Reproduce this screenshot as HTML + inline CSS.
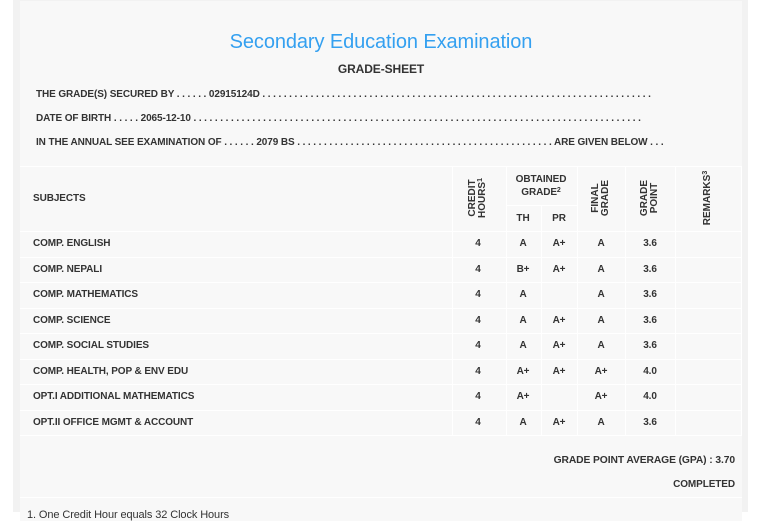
<!DOCTYPE html>
<html><head><meta charset="utf-8"><style>
html,body{margin:0;padding:0;background:#fff;width:766px;height:512px;overflow:hidden;font-family:"Liberation Sans",sans-serif;}
.outer{position:absolute;left:13px;top:0;width:735px;height:512px;background:#f2f2f2;}
.panel{position:absolute;left:20px;top:1px;width:722px;height:520px;background:#f8f8f8;}
.t{position:absolute;color:#333;font-weight:bold;font-size:10px;white-space:nowrap;letter-spacing:-0.1px}
.c{text-align:center;transform:translateX(-50%)}
.h{position:absolute;background:#fff;height:1px}
.v{position:absolute;background:#fff;width:1px}
.rot{position:absolute;color:#333;font-weight:bold;font-size:10px;line-height:10px;text-align:center;transform:translate(-50%,-50%) rotate(-90deg);white-space:nowrap}
sup{font-size:7px;vertical-align:top;position:relative;top:-2px}
</style></head><body>
<div class="outer"></div>
<div class="panel"></div>
<div class="t" style="left:381px;top:31px;transform:translateX(-50%);font-weight:normal;font-size:20px;color:#34a0f0;">Secondary Education Examination</div>
<div class="t c" style="left:381px;top:62px;font-size:12px">GRADE-SHEET</div>
<div class="t" style="left:36px;top:89px">THE GRADE(S) SECURED BY . . . . . . 02915124D . . . . . . . . . . . . . . . . . . . . . . . . . . . . . . . . . . . . . . . . . . . . . . . . . . . . . . . . . . . . . . . . . . . . . . . . .</div>
<div class="t" style="left:36px;top:113px">DATE OF BIRTH . . . . . 2065-12-10 . . . . . . . . . . . . . . . . . . . . . . . . . . . . . . . . . . . . . . . . . . . . . . . . . . . . . . . . . . . . . . . . . . . . . . . . . . . . . . . . . . . .</div>
<div class="t" style="left:36px;top:137px">IN THE ANNUAL SEE EXAMINATION OF . . . . . . 2079 BS . . . . . . . . . . . . . . . . . . . . . . . . . . . . . . . . . . . . . . . . . . . . . . . . ARE GIVEN BELOW . . .</div>
<div class="h" style="left:20px;top:166px;width:722px"></div>
<div class="h" style="left:506px;top:205px;width:71px"></div>
<div class="h" style="left:20px;top:231px;width:722px"></div>
<div class="h" style="left:20px;top:257px;width:722px"></div>
<div class="h" style="left:20px;top:282px;width:722px"></div>
<div class="h" style="left:20px;top:308px;width:722px"></div>
<div class="h" style="left:20px;top:333px;width:722px"></div>
<div class="h" style="left:20px;top:359px;width:722px"></div>
<div class="h" style="left:20px;top:384px;width:722px"></div>
<div class="h" style="left:20px;top:410px;width:722px"></div>
<div class="h" style="left:20px;top:435px;width:722px"></div>
<div class="h" style="left:20px;top:497px;width:722px"></div>
<div class="v" style="left:452px;top:166px;height:269px"></div>
<div class="v" style="left:506px;top:166px;height:269px"></div>
<div class="v" style="left:541px;top:205px;height:230px"></div>
<div class="v" style="left:577px;top:166px;height:269px"></div>
<div class="v" style="left:625px;top:166px;height:269px"></div>
<div class="v" style="left:675px;top:166px;height:269px"></div>
<div class="v" style="left:741px;top:166px;height:269px"></div>
<div class="t" style="left:33px;top:193px">SUBJECTS</div>
<div class="rot" style="left:478px;top:198px">CREDIT<br>HOURS<sup>1</sup></div>
<div class="t c" style="left:541px;top:173px;line-height:13px">OBTAINED<br>GRADE<sup>2</sup></div>
<div class="t c" style="left:523px;top:213px">TH</div>
<div class="t c" style="left:559px;top:213px">PR</div>
<div class="rot" style="left:601px;top:198px">FINAL<br>GRADE</div>
<div class="rot" style="left:650px;top:198px">GRADE<br>POINT</div>
<div class="rot" style="left:708px;top:198px">REMARKS<sup>3</sup></div>
<div class="t" style="left:33px;top:238px">COMP. ENGLISH</div><div class="t c" style="left:478px;top:238px">4</div><div class="t c" style="left:523px;top:238px">A</div><div class="t c" style="left:559px;top:238px">A+</div><div class="t c" style="left:601px;top:238px">A</div><div class="t c" style="left:650px;top:238px">3.6</div>
<div class="t" style="left:33px;top:264px">COMP. NEPALI</div><div class="t c" style="left:478px;top:264px">4</div><div class="t c" style="left:523px;top:264px">B+</div><div class="t c" style="left:559px;top:264px">A+</div><div class="t c" style="left:601px;top:264px">A</div><div class="t c" style="left:650px;top:264px">3.6</div>
<div class="t" style="left:33px;top:289px">COMP. MATHEMATICS</div><div class="t c" style="left:478px;top:289px">4</div><div class="t c" style="left:523px;top:289px">A</div><div class="t c" style="left:601px;top:289px">A</div><div class="t c" style="left:650px;top:289px">3.6</div>
<div class="t" style="left:33px;top:315px">COMP. SCIENCE</div><div class="t c" style="left:478px;top:315px">4</div><div class="t c" style="left:523px;top:315px">A</div><div class="t c" style="left:559px;top:315px">A+</div><div class="t c" style="left:601px;top:315px">A</div><div class="t c" style="left:650px;top:315px">3.6</div>
<div class="t" style="left:33px;top:340px">COMP. SOCIAL STUDIES</div><div class="t c" style="left:478px;top:340px">4</div><div class="t c" style="left:523px;top:340px">A</div><div class="t c" style="left:559px;top:340px">A+</div><div class="t c" style="left:601px;top:340px">A</div><div class="t c" style="left:650px;top:340px">3.6</div>
<div class="t" style="left:33px;top:366px">COMP. HEALTH, POP &amp; ENV EDU</div><div class="t c" style="left:478px;top:366px">4</div><div class="t c" style="left:523px;top:366px">A+</div><div class="t c" style="left:559px;top:366px">A+</div><div class="t c" style="left:601px;top:366px">A+</div><div class="t c" style="left:650px;top:366px">4.0</div>
<div class="t" style="left:33px;top:391px">OPT.I ADDITIONAL MATHEMATICS</div><div class="t c" style="left:478px;top:391px">4</div><div class="t c" style="left:523px;top:391px">A+</div><div class="t c" style="left:601px;top:391px">A+</div><div class="t c" style="left:650px;top:391px">4.0</div>
<div class="t" style="left:33px;top:417px">OPT.II OFFICE MGMT &amp; ACCOUNT</div><div class="t c" style="left:478px;top:417px">4</div><div class="t c" style="left:523px;top:417px">A</div><div class="t c" style="left:559px;top:417px">A+</div><div class="t c" style="left:601px;top:417px">A</div><div class="t c" style="left:650px;top:417px">3.6</div>
<div class="t" style="right:31px;top:455px;font-size:10.3px">GRADE POINT AVERAGE (GPA) : 3.70</div>
<div class="t" style="right:31px;top:479px">COMPLETED</div>
<div class="t" style="left:27px;top:509px;font-weight:normal;font-size:11px">1. One Credit Hour equals 32 Clock Hours</div>
</body></html>
